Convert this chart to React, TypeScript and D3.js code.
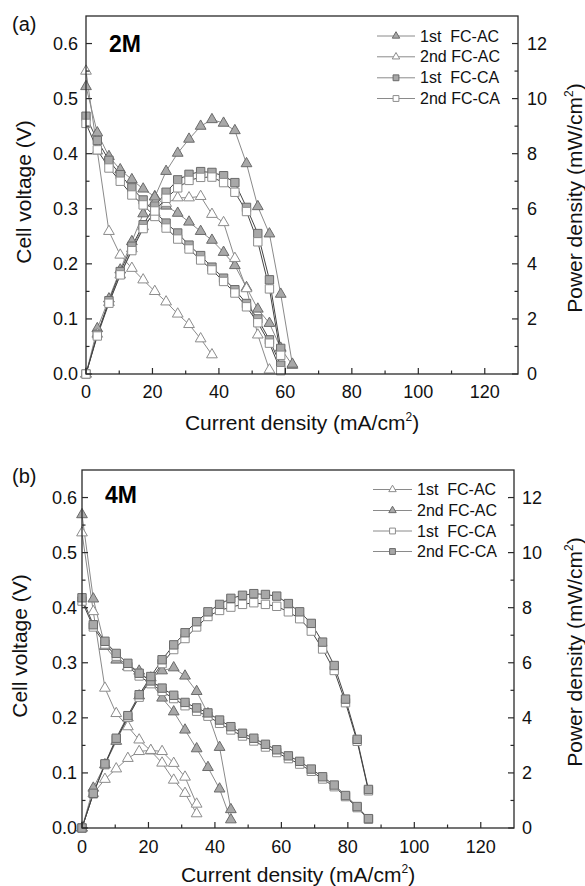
import React from 'react';
import * as d3 from 'd3';

// ---------- Axis ticks ----------
const X_TICKS = [0, 20, 40, 60, 80, 100, 120];
const X_MINOR = [10, 30, 50, 70, 90, 110];
const V_TICKS = [0, 0.1, 0.2, 0.3, 0.4, 0.5, 0.6];
const V_MINOR = [0.05, 0.15, 0.25, 0.35, 0.45, 0.55];
const P_TICKS = [0, 2, 4, 6, 8, 10, 12];
const P_MINOR = [1, 3, 5, 7, 9, 11];

// ---------- Panel (a) 2M ----------
const A_I_AC1 = [0, 3.4, 6.9, 10.3, 13.8, 17.2, 20.7, 24.1, 27.6, 31.0, 34.5, 37.9, 41.4, 44.8, 48.3, 51.7, 55.2, 58.6, 62.1];
const A_V_AC1 = [0.522, 0.438, 0.395, 0.371, 0.353, 0.336, 0.322, 0.305, 0.292, 0.276, 0.259, 0.243, 0.221, 0.197, 0.157, 0.118, 0.092, 0.047, 0.016];
const A_P_AC1 = [0, 1.65, 2.73, 3.78, 4.81, 5.82, 6.43, 7.36, 8.02, 8.53, 9.0, 9.24, 9.11, 8.84, 7.64, 6.08, 5.09, 2.9, 0.36];

const A_I_AC2_V = [0, 3.4, 6.9, 10.3, 13.8, 17.2, 20.7, 24.1, 27.6, 31.0, 34.5, 37.9];
const A_V_AC2 = [0.55, 0.405, 0.259, 0.216, 0.192, 0.171, 0.15, 0.131, 0.109, 0.09, 0.064, 0.035];
const A_I_AC2_P = [0, 3.4, 6.9, 10.3, 13.8, 17.2, 20.7, 24.1, 27.6, 31.0, 34.5, 37.9, 41.4, 44.8, 48.3, 51.7, 55.2];
const A_P_AC2 = [0, 1.45, 2.6, 3.6, 4.55, 5.35, 5.85, 6.2, 6.4, 6.4, 6.45, 5.8, 5.5, 4.2, 3.1, 1.42, 0.15];

const A_I_CA = [0, 3.4, 6.9, 10.3, 13.8, 17.2, 20.7, 24.1, 27.6, 31.0, 34.5, 37.9, 41.4, 44.8, 48.3, 51.7, 55.2, 58.6];
const A_V_CA1 = [0.468, 0.424, 0.388, 0.362, 0.338, 0.316, 0.295, 0.274, 0.256, 0.234, 0.215, 0.194, 0.174, 0.153, 0.128, 0.1, 0.062, 0.016];
const A_P_CA1 = [0, 1.44, 2.66, 3.72, 4.64, 5.42, 6.1, 6.6, 7.05, 7.25, 7.35, 7.32, 7.2, 6.95, 6.05, 5.1, 3.42, 0.93];
const A_V_CA2 = [0.455, 0.407, 0.374, 0.35, 0.325, 0.307, 0.286, 0.265, 0.245, 0.227, 0.207, 0.189, 0.168, 0.147, 0.122, 0.093, 0.056, 0.006];
const A_P_CA2 = [0, 1.38, 2.57, 3.6, 4.48, 5.28, 5.92, 6.38, 6.76, 7.03, 7.14, 7.15, 6.95, 6.6, 5.9, 4.8, 3.09, 0.68];

// ---------- Panel (b) 4M ----------
const B_I_AC1 = [0, 3.4, 6.9, 10.3, 13.8, 17.2, 20.7, 24.1, 27.6, 31.0, 34.5];
const B_V_AC1 = [0.536, 0.393, 0.254, 0.208, 0.184, 0.16, 0.14, 0.118, 0.087, 0.063, 0.026];
const B_P_AC1 = [0, 1.25, 1.77, 2.15, 2.53, 2.78, 2.82, 2.78, 2.35, 1.85, 0.87];

const B_I_AC2 = [0, 3.4, 6.9, 10.3, 13.8, 17.2, 20.7, 24.1, 27.6, 31.0, 34.5, 37.9, 41.4, 44.8];
const B_V_AC2 = [0.569, 0.416, 0.33, 0.305, 0.293, 0.285, 0.265, 0.236, 0.211, 0.178, 0.144, 0.11, 0.071, 0.015];
const B_P_AC2 = [0, 1.45, 2.3, 3.15, 4.0, 4.8, 5.45, 5.71, 5.82, 5.52, 4.96, 4.15, 2.93, 0.67];

const B_I_CA = [0, 3.4, 6.9, 10.3, 13.8, 17.2, 20.7, 24.1, 27.6, 31.0, 34.5, 37.9, 41.4, 44.8, 48.3, 51.7, 55.2, 58.6, 62.1, 65.5, 69.0, 72.4, 75.9, 79.3, 82.8, 86.2];
const B_V_CA1 = [0.412, 0.365, 0.334, 0.312, 0.293, 0.276, 0.262, 0.248, 0.235, 0.222, 0.212, 0.203, 0.19, 0.178, 0.167, 0.158, 0.147, 0.137, 0.126, 0.116, 0.103, 0.089, 0.075, 0.057, 0.037, 0.016];
const B_P_CA1 = [0, 1.24, 2.3, 3.21, 4.02, 4.75, 5.4, 5.97, 6.48, 6.88, 7.3, 7.68, 7.9, 8.02, 8.12, 8.18, 8.12, 8.05, 7.85, 7.6, 7.15, 6.5, 5.72, 4.55, 3.15, 1.35];
const B_V_CA2 = [0.418, 0.369, 0.339, 0.317, 0.299, 0.281, 0.267, 0.254, 0.241, 0.228, 0.218, 0.209, 0.196, 0.184, 0.172, 0.163, 0.152, 0.142, 0.131, 0.121, 0.107, 0.093, 0.078, 0.059, 0.039, 0.017];
const B_P_CA2 = [0, 1.26, 2.33, 3.26, 4.08, 4.84, 5.5, 6.11, 6.65, 7.09, 7.49, 7.85, 8.12, 8.34, 8.45, 8.51, 8.48, 8.42, 8.15, 7.85, 7.43, 6.75, 5.9, 4.68, 3.22, 1.4];

const LEGEND_A = ['1st  FC-AC', '2nd FC-AC', '1st  FC-CA', '2nd FC-CA'];
const LEGEND_B = ['1st  FC-AC', '2nd FC-AC', '1st  FC-CA', '2nd FC-CA'];

type Shape = 'tri' | 'sq';
type Series = { name: string; shape: Shape; filled: boolean; iV: number[]; v: number[]; iP: number[]; p: number[] };

const SERIES_A: Series[] = [
  { name: LEGEND_A[0], shape: 'tri', filled: true, iV: A_I_AC1, v: A_V_AC1, iP: A_I_AC1, p: A_P_AC1 },
  { name: LEGEND_A[1], shape: 'tri', filled: false, iV: A_I_AC2_V, v: A_V_AC2, iP: A_I_AC2_P, p: A_P_AC2 },
  { name: LEGEND_A[2], shape: 'sq', filled: true, iV: A_I_CA, v: A_V_CA1, iP: A_I_CA, p: A_P_CA1 },
  { name: LEGEND_A[3], shape: 'sq', filled: false, iV: A_I_CA, v: A_V_CA2, iP: A_I_CA, p: A_P_CA2 },
];
const SERIES_B: Series[] = [
  { name: LEGEND_B[0], shape: 'tri', filled: false, iV: B_I_AC1, v: B_V_AC1, iP: B_I_AC1, p: B_P_AC1 },
  { name: LEGEND_B[1], shape: 'tri', filled: true, iV: B_I_AC2, v: B_V_AC2, iP: B_I_AC2, p: B_P_AC2 },
  { name: LEGEND_B[2], shape: 'sq', filled: false, iV: B_I_CA, v: B_V_CA1, iP: B_I_CA, p: B_P_CA1 },
  { name: LEGEND_B[3], shape: 'sq', filled: true, iV: B_I_CA, v: B_V_CA2, iP: B_I_CA, p: B_P_CA2 },
];

const FONT = "Arial, 'Liberation Sans', Helvetica, sans-serif";
const FILL = '#a8a8a8';
const STROKE_F = '#6a6a6a';
const STROKE_O = '#8c8c8c';
const AXIS = '#2a2a2a';

type Cfg = {
  left: number; right: number; top: number; bottom: number;
  label: string; labelY: number; conc: string; concX: number; concY: number;
  leftTickX: number; rightTickX: number; yTitleX: number; rightTitleX: number;
  xTitleY: number; xTickY: number;
  legLine1: number; legLine2: number; legText: number; legY: number[];
};

const CFG_A: Cfg = {
  left: 86, right: 518, top: 16, bottom: 374,
  label: '(a)', labelY: 31, conc: '2M', concX: 109, concY: 52,
  leftTickX: 78, rightTickX: 527, yTitleX: 31, rightTitleX: 582,
  xTitleY: 430, xTickY: 398,
  legLine1: 377, legLine2: 415, legText: 420, legY: [41.5, 62.3, 83.3, 104],
};
const CFG_B: Cfg = {
  left: 82, right: 514, top: 470, bottom: 828,
  label: '(b)', labelY: 483, conc: '4M', concX: 105, concY: 503,
  leftTickX: 77, rightTickX: 522, yTitleX: 27, rightTitleX: 582,
  xTitleY: 882, xTickY: 853,
  legLine1: 373, legLine2: 412, legText: 417, legY: [495, 516, 536.5, 557],
};

function markerPath(shape: Shape, big: boolean): string {
  const type = shape === 'tri' ? d3.symbolTriangle : d3.symbolSquare;
  const size = shape === 'tri' ? (big ? 50 : 24) : (big ? 70 : 34);
  return d3.symbol().type(type).size(size)() as string;
}

function Panel({ cfg, series }: { cfg: Cfg; series: Series[] }) {
  const x = d3.scaleLinear().domain([0, 130]).range([cfg.left, cfg.right]);
  const yV = d3.scaleLinear().domain([0, 0.65]).range([cfg.bottom, cfg.top]);
  const yP = d3.scaleLinear().domain([0, 13]).range([cfg.bottom, cfg.top]);
  const line = d3.line<[number, number]>().x(d => d[0]).y(d => d[1]);

  const curves: { s: Series; pts: [number, number][] }[] = [];
  series.forEach(s => {
    curves.push({ s, pts: s.iV.map((c, i) => [x(c), yV(s.v[i])] as [number, number]) });
    curves.push({ s, pts: s.iP.map((c, i) => [x(c), yP(s.p[i])] as [number, number]) });
  });
  const lineColor = (s: Series) => (s.shape === 'sq' ? '#444' : '#8a8a8a');
  const midY = (cfg.top + cfg.bottom) / 2;
  const midX = (cfg.left + cfg.right) / 2;

  return (
    <g fontFamily={FONT}>
      {/* curves */}
      {curves.map((c, k) => (
        <path key={'l' + k} d={line(c.pts) || ''} fill="none" stroke={lineColor(c.s)} strokeWidth={1} />
      ))}
      {curves.map((c, k) => (
        <g key={'m' + k}>
          {c.pts.map((p, j) => (
            <path key={j} d={markerPath(c.s.shape, true)} transform={`translate(${p[0]},${p[1]})`}
              fill={c.s.filled ? FILL : '#fff'} stroke={c.s.filled ? STROKE_F : STROKE_O} strokeWidth={1} />
          ))}
        </g>
      ))}
      {/* frame */}
      <rect x={cfg.left} y={cfg.top} width={cfg.right - cfg.left} height={cfg.bottom - cfg.top}
        fill="none" stroke={AXIS} strokeWidth={1.3} />
      {/* x ticks */}
      {X_TICKS.map(t => (
        <g key={'xt' + t}>
          <line x1={x(t)} x2={x(t)} y1={cfg.bottom} y2={cfg.bottom - 6} stroke={AXIS} strokeWidth={1.2} />
          <text x={x(t)} y={cfg.xTickY} fontSize={18} textAnchor="middle" fill="#111">{t}</text>
        </g>
      ))}
      {X_MINOR.map(t => (
        <line key={'xm' + t} x1={x(t)} x2={x(t)} y1={cfg.bottom} y2={cfg.bottom - 3.5} stroke={AXIS} strokeWidth={1.2} />
      ))}
      {/* left ticks */}
      {V_TICKS.map(t => (
        <g key={'vt' + t}>
          <line x1={cfg.left} x2={cfg.left + 6} y1={yV(t)} y2={yV(t)} stroke={AXIS} strokeWidth={1.2} />
          <text x={cfg.leftTickX} y={yV(t)} dy="0.36em" fontSize={18} textAnchor="end" fill="#111">{t.toFixed(1)}</text>
        </g>
      ))}
      {V_MINOR.map(t => (
        <line key={'vm' + t} x1={cfg.left} x2={cfg.left + 3.5} y1={yV(t)} y2={yV(t)} stroke={AXIS} strokeWidth={1.2} />
      ))}
      {/* right ticks */}
      {P_TICKS.map(t => (
        <g key={'pt' + t}>
          <line x1={cfg.right} x2={cfg.right - 6} y1={yP(t)} y2={yP(t)} stroke={AXIS} strokeWidth={1.2} />
          <text x={cfg.rightTickX} y={yP(t)} dy="0.36em" fontSize={18} textAnchor="start" fill="#111">{t}</text>
        </g>
      ))}
      {P_MINOR.map(t => (
        <line key={'pm' + t} x1={cfg.right} x2={cfg.right - 3.5} y1={yP(t)} y2={yP(t)} stroke={AXIS} strokeWidth={1.2} />
      ))}
      {/* titles */}
      <text x={midX} y={cfg.xTitleY} fontSize={21} textAnchor="middle" fill="#111">
        Current density (mA/cm<tspan fontSize={12} dy={-9}>2</tspan><tspan dy={9}>)</tspan>
      </text>
      <text transform={`translate(${cfg.yTitleX},${midY - 3}) rotate(-90)`} fontSize={21} textAnchor="middle" fill="#111">
        Cell voltage (V)
      </text>
      <text transform={`translate(${cfg.rightTitleX},${midY + 3}) rotate(-90)`} fontSize={21} textAnchor="middle" fill="#111">
        Power density (mW/cm<tspan fontSize={12} dy={-9}>2</tspan><tspan dy={9}>)</tspan>
      </text>
      <text x={12} y={cfg.labelY} fontSize={20} fill="#111">{cfg.label}</text>
      <text x={cfg.concX} y={cfg.concY} fontSize={23} fontWeight="bold" fill="#000">{cfg.conc}</text>
      {/* legend */}
      {series.map((s, i) => {
        const ly = cfg.legY[i] - 5.5;
        const mx = (cfg.legLine1 + cfg.legLine2) / 2;
        return (
          <g key={'lg' + i}>
            <line x1={cfg.legLine1} x2={cfg.legLine2} y1={ly} y2={ly} stroke="#8a8a8a" strokeWidth={1} />
            <path d={markerPath(s.shape, false)} transform={`translate(${mx},${ly})`}
              fill={s.filled ? FILL : '#fff'} stroke={s.filled ? STROKE_F : STROKE_O} strokeWidth={1} />
            <text x={cfg.legText} y={cfg.legY[i]} fontSize={16} fill="#111" style={{ whiteSpace: 'pre' }}>{s.name}</text>
          </g>
        );
      })}
    </g>
  );
}

export default function App() {
  return (
    <svg width={585} height={886} style={{ position: 'absolute', left: 0, top: 0, background: '#fff' }}>
      <rect width={585} height={886} fill="#fff" />
      <Panel cfg={CFG_A} series={SERIES_A} />
      <Panel cfg={CFG_B} series={SERIES_B} />
    </svg>
  );
}
